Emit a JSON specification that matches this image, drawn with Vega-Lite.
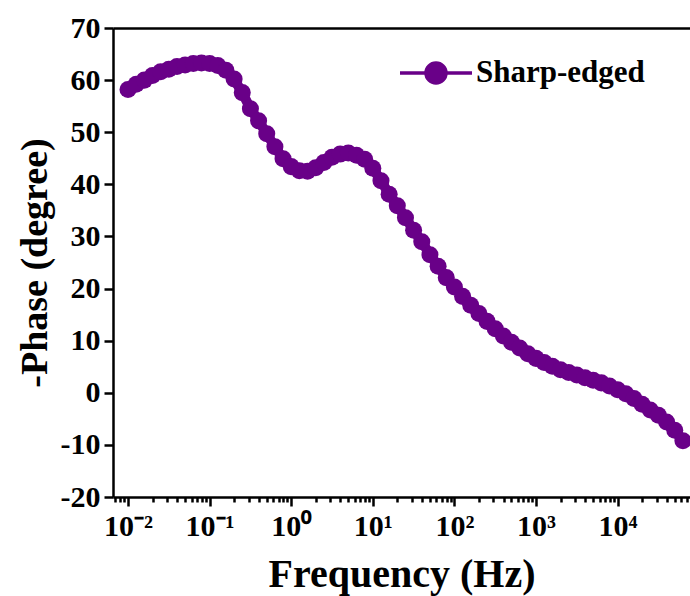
{
  "$schema": "https://vega.github.io/schema/vega-lite/v6.json",
  "width": 577,
  "height": 469,
  "autosize": {"type": "none"},
  "padding": {"left": 113, "top": 28, "right": 0, "bottom": 99},
  "background": "white",
  "config": {
    "view": {"stroke": null},
    "font": "Liberation Serif",
    "axis": {
      "domainColor": "black",
      "domainWidth": 2.5,
      "tickColor": "black",
      "tickWidth": 2.5,
      "labelFont": "Liberation Serif",
      "labelFontWeight": "bold",
      "labelFontSize": 30,
      "labelColor": "black",
      "titleFont": "Liberation Serif",
      "titleFontWeight": "bold",
      "titleColor": "black",
      "grid": false
    }
  },
  "data": {
    "values": [
      {"f": 0.01, "p": 58.2}, {"f": 0.012589, "p": 59.2}, {"f": 0.015849, "p": 60.0}, {"f": 0.019953, "p": 60.9}, {"f": 0.025119, "p": 61.6},
      {"f": 0.031623, "p": 62.1}, {"f": 0.039811, "p": 62.6}, {"f": 0.050119, "p": 62.9}, {"f": 0.063096, "p": 63.2}, {"f": 0.079433, "p": 63.3},
      {"f": 0.1, "p": 63.2}, {"f": 0.12589, "p": 62.8}, {"f": 0.15849, "p": 61.9}, {"f": 0.19953, "p": 60.2}, {"f": 0.25119, "p": 57.6},
      {"f": 0.31623, "p": 54.5}, {"f": 0.39811, "p": 52.2}, {"f": 0.50119, "p": 49.7}, {"f": 0.63096, "p": 47.2}, {"f": 0.79433, "p": 44.9},
      {"f": 1, "p": 43.4}, {"f": 1.2589, "p": 42.6}, {"f": 1.5849, "p": 42.5}, {"f": 1.9953, "p": 43.2}, {"f": 2.5119, "p": 44.2},
      {"f": 3.1623, "p": 45.2}, {"f": 3.9811, "p": 45.8}, {"f": 5.0119, "p": 46.0}, {"f": 6.3096, "p": 45.6}, {"f": 7.9433, "p": 44.8},
      {"f": 10, "p": 43.1}, {"f": 12.589, "p": 40.7}, {"f": 15.849, "p": 38.1}, {"f": 19.953, "p": 35.9}, {"f": 25.119, "p": 33.6},
      {"f": 31.623, "p": 31.2}, {"f": 39.811, "p": 29.0}, {"f": 50.119, "p": 26.5}, {"f": 63.096, "p": 24.3}, {"f": 79.433, "p": 22.1},
      {"f": 100, "p": 20.3}, {"f": 125.89, "p": 18.5}, {"f": 158.49, "p": 16.8}, {"f": 199.53, "p": 15.2}, {"f": 251.19, "p": 13.7},
      {"f": 316.23, "p": 12.3}, {"f": 398.11, "p": 10.9}, {"f": 501.19, "p": 9.7}, {"f": 630.96, "p": 8.6}, {"f": 794.33, "p": 7.5},
      {"f": 1000, "p": 6.6}, {"f": 1258.9, "p": 5.8}, {"f": 1584.9, "p": 5.1}, {"f": 1995.3, "p": 4.4}, {"f": 2511.9, "p": 3.9},
      {"f": 3162.3, "p": 3.4}, {"f": 3981.1, "p": 2.9}, {"f": 5011.9, "p": 2.4}, {"f": 6309.6, "p": 1.9}, {"f": 7943.3, "p": 1.3},
      {"f": 10000, "p": 0.6}, {"f": 12589, "p": -0.2}, {"f": 15849, "p": -1.1}, {"f": 19953, "p": -2.2}, {"f": 25119, "p": -3.3},
      {"f": 31623, "p": -4.3}, {"f": 39811, "p": -5.6}, {"f": 50119, "p": -7.2}, {"f": 63096, "p": -9.2}
    ]
  },
  "layer": [
    {
      "mark": {"type": "line", "color": "#690088", "strokeWidth": 10, "clip": true},
      "encoding": {
        "x": {
          "field": "f", "type": "quantitative",
          "scale": {"type": "log", "domain": [0.006546, 77090], "nice": false},
          "axis": {
            "orient": "bottom",
            "values": [0.007, 0.008, 0.009, 0.01, 0.02, 0.03, 0.04, 0.05, 0.06, 0.07, 0.08, 0.09, 0.1, 0.2, 0.3, 0.4, 0.5, 0.6, 0.7, 0.8, 0.9, 1, 2, 3, 4, 5, 6, 7, 8, 9, 10, 20, 30, 40, 50, 60, 70, 80, 90, 100, 200, 300, 400, 500, 600, 700, 800, 900, 1000, 2000, 3000, 4000, 5000, 6000, 7000, 8000, 9000, 10000, 20000, 30000, 40000, 50000, 60000, 70000],
            "tickSize": {"condition": {"test": "abs(log(datum.value)/LN10 - round(log(datum.value)/LN10)) < 0.01", "value": 9}, "value": 5},
            "labelExpr": "abs(log(datum.value)/LN10 - round(log(datum.value)/LN10)) < 0.01 ? ['10⁻²','10⁻¹','10⁰','10¹','10²','10³','10⁴'][round(log(datum.value)/LN10)+2] : ''",
            "labelPadding": 5,
            "labelOverlap": false,
            "labelFlush": false,
            "title": "Frequency (Hz)",
            "titleFontSize": 40,
            "titlePadding": 13
          }
        },
        "y": {
          "field": "p", "type": "quantitative",
          "scale": {"domain": [-20, 70], "nice": false, "zero": false},
          "axis": {
            "values": [-20, -15, -10, -5, 0, 5, 10, 15, 20, 25, 30, 35, 40, 45, 50, 55, 60, 65, 70],
            "tickSize": {"condition": {"test": "datum.value % 10 == 0", "value": 9}, "value": 5},
            "labelExpr": "datum.value % 10 == 0 ? '' + datum.value : ''",
            "labelPadding": 4,
            "labelOverlap": false,
            "labelFlush": false,
            "title": "-Phase (degree)",
            "titleFontSize": 38,
            "titlePadding": 6
          }
        }
      }
    },
    {
      "mark": {"type": "circle", "size": 290, "opacity": 1, "clip": true},
      "encoding": {
        "x": {
          "field": "f", "type": "quantitative",
          "axis": {"orient": "top", "labels": false, "ticks": false, "domain": true, "title": null}
        },
        "y": {"field": "p", "type": "quantitative"},
        "color": {
          "datum": "Sharp-edged",
          "type": "nominal",
          "scale": {"range": ["#690088"]},
          "legend": {
            "title": null,
            "orient": "none",
            "legendX": 281,
            "legendY": 3,
            "symbolType": "M-0.9,0L0.9,0M-0.25,0A0.25,0.25,0,1,1,0.25,0A0.25,0.25,0,1,1,-0.25,0Z",
            "symbolSize": 6400,
            "symbolStrokeWidth": 3.5,
            "symbolStrokeColor": "#690088",
            "symbolFillColor": "#690088",
            "symbolOpacity": 1,
            "labelFont": "Liberation Serif",
            "labelFontWeight": "bold",
            "labelFontSize": 31,
            "labelColor": "black",
            "labelLimit": 400,
            "labelOffset": -2,
            "padding": 0
          }
        }
      }
    }
  ],
  "resolve": {"axis": {"x": "independent"}}
}
